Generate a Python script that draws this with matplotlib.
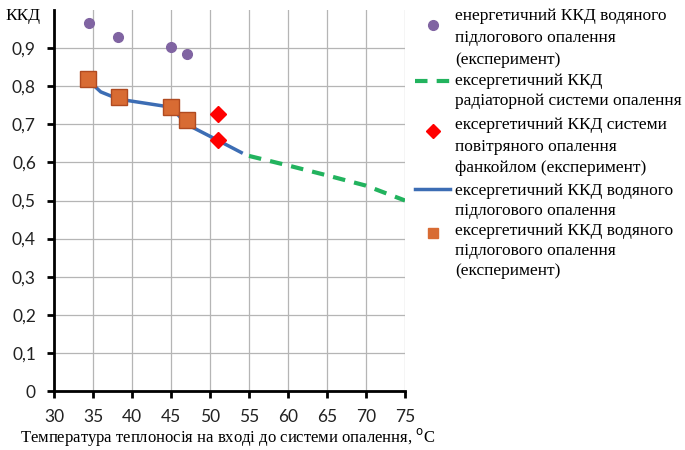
import matplotlib.pyplot as plt
from matplotlib.lines import Line2D
from matplotlib.ticker import FuncFormatter

# енергетичний ККД водяного підлогового опалення (експеримент)
energy_t = [34.5, 38.2, 45.0, 47.0]
energy_eff = [0.965, 0.930, 0.902, 0.885]

# ексергетичний ККД водяного підлогового опалення (експеримент)
floor_exp_t = [34.4, 38.3, 45.0, 47.0]
floor_exp_eff = [0.820, 0.772, 0.745, 0.710]

# ексергетичний ККД водяного підлогового опалення (розрахунок)
floor_t = [34.4, 36.0, 38.3, 45.0, 47.0, 51.0, 54.0]
floor_eff = [0.815, 0.785, 0.766, 0.745, 0.700, 0.658, 0.626]

# ексергетичний ККД радіаторної системи опалення
rad_t = [55.0, 60.0, 65.0, 70.0, 75.0]
rad_eff = [0.617, 0.592, 0.566, 0.539, 0.500]

# ексергетичний ККД системи повітряного опалення фанкойлом (експеримент)
fan_t = [51.0, 51.0]
fan_eff = [0.726, 0.658]

labels = [
    ["енергетичний ККД водяного", "підлогового опалення", "(експеримент)"],
    ["ексергетичний ККД", "радіаторной системи опалення"],
    ["ексергетичний ККД системи", "повітряного опалення", "фанкойлом (експеримент)"],
    ["ексергетичний ККД водяного", "підлогового опалення"],
    ["ексергетичний ККД водяного", "підлогового опалення", "(експеримент)"],
]

PURPLE = "#8064a2"
GREEN = "#22b35e"
RED = "#ff0000"
BLUE = "#3c6db4"
ORANGE = "#d86b33"

fig = plt.figure(figsize=(6.85, 4.5), dpi=100)
ax = fig.add_axes([54 / 685, 1 - 391 / 450, 351 / 685, 381 / 450])

ax.plot(floor_t, floor_eff, color=BLUE, lw=2.5, zorder=3)
ax.plot(rad_t, rad_eff, color=GREEN, lw=3, ls=(0, (3, 2.2)), zorder=3)
ax.plot(energy_t, energy_eff, "o", color=PURPLE, ms=7, ls="none", zorder=4)
ax.plot(floor_exp_t, floor_exp_eff, "s", color=ORANGE, mec="#b04a20", ms=11,
        ls="none", zorder=4)
ax.plot(fan_t, fan_eff, "D", color=RED, ms=8, ls="none", zorder=5)

ax.set_xlim(30, 75)
ax.set_ylim(0, 1.0)
ax.set_xticks(range(30, 80, 5))
ax.set_yticks([i / 10 for i in range(10)])
ax.yaxis.set_major_formatter(FuncFormatter(
    lambda v, p: "0" if v == 0 else f"{v:.1f}".replace(".", ",")))
ax.grid(True, color="#b5b5b5", lw=0.9)
ax.set_axisbelow(True)
for s in ["top", "right"]:
    ax.spines[s].set_visible(False)
for s in ["left", "bottom"]:
    ax.spines[s].set_linewidth(2)
ax.tick_params(width=2, length=5, direction="out", labelsize=12.5, pad=8)
for lab in ax.get_xticklabels() + ax.get_yticklabels():
    lab.set_family("Lato")
    lab.set_color("#222222")

fig.text(5 / 685, 1 - 16 / 450, "ККД", family="Liberation Serif",
         fontsize=12.5, va="center", ha="left")
fig.text(228 / 685, 1 - 437 / 450,
         "Температура теплоносія на вході до системи опалення, $^{\\rm o}$C",
         family="Liberation Serif", fontsize=12, va="center", ha="center")

# legend drawn by hand, one text line at a time
text_x = 455 / 685
line_y = [[16, 38, 60], [81, 101], [125, 147, 168], [191, 211], [231, 251, 271]]
handle_y = [25, 81, 131, 189, 233]
handles = [
    dict(marker="o", color=PURPLE, ms=7, ls="none"),
    dict(color=GREEN, lw=3, ls=(0, (3, 2.2))),
    dict(marker="D", color=RED, ms=7, ls="none"),
    dict(color=BLUE, lw=2.5),
    dict(marker="s", color=ORANGE, ms=7, ls="none"),
]
for lines, ys, hy, h in zip(labels, line_y, handle_y, handles):
    yy = 1 - hy / 450
    if h.get("marker"):
        fig.add_artist(Line2D([433 / 685], [yy], transform=fig.transFigure, **h))
    else:
        fig.add_artist(Line2D([415 / 685, 450 / 685], [yy, yy],
                              transform=fig.transFigure, **h))
    for txt, y in zip(lines, ys):
        fig.text(text_x, 1 - y / 450, txt, family="Liberation Serif",
                 fontsize=12.5, va="center", ha="left")

fig.savefig("out.png", dpi=100)
